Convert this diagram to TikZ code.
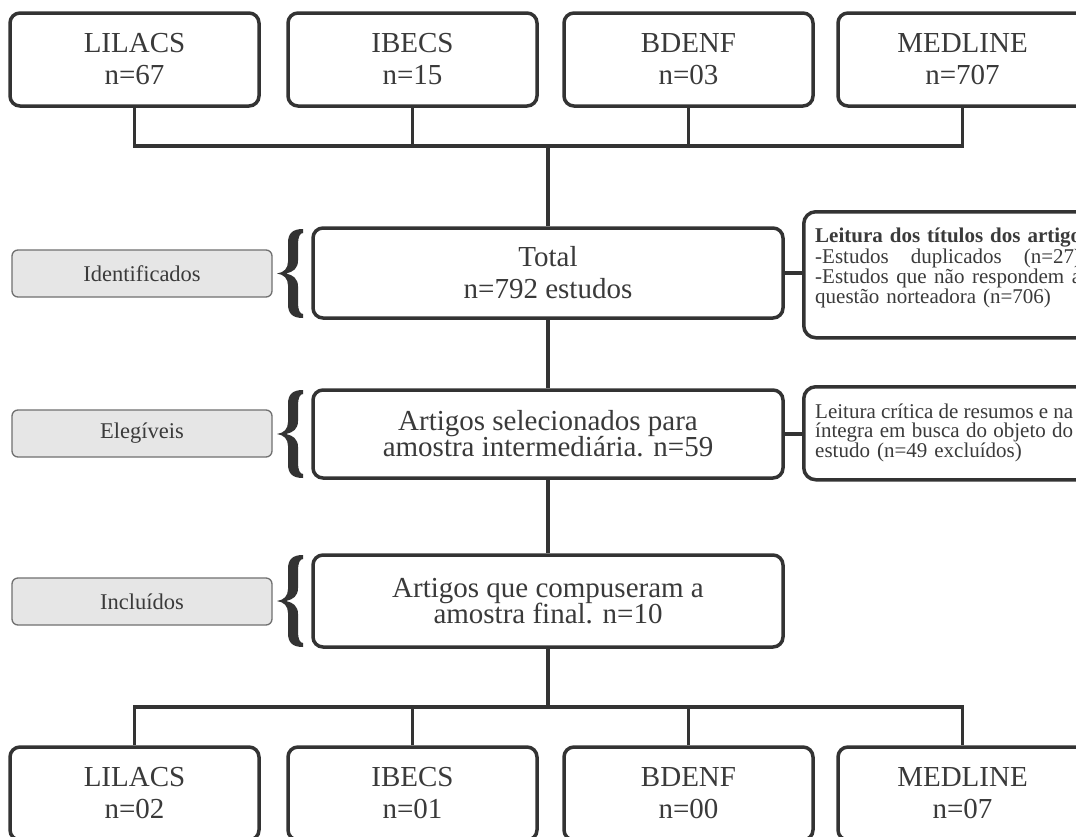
\documentclass[tikz,border=0pt]{standalone}
\usepackage{fontspec}
\setmainfont{Liberation Serif}
\definecolor{boxc}{HTML}{333333}
\definecolor{txtc}{HTML}{3A3A3A}
\definecolor{grayfill}{HTML}{E6E6E6}
\definecolor{grayline}{HTML}{707070}
\newcommand\bracedraw[3]{%
 \fill[boxc] (303,#1) .. controls (293,#1) and (288,#1+4) .. (288,#1+14) -- (288,#2-12) .. controls (288,#2-5) and (284,#2-1) .. (277,#2) .. controls (284,#2+1) and (288,#2+5) .. (288,#2+12) -- (288,#3-14) .. controls (288,#3-4) and (293,#3) .. (303,#3) -- (303,#3-4) .. controls (300,#3-4) and (298,#3-8) .. (298,#3-15) -- (298,#2+13) .. controls (298,#2+5) and (293,#2+1.5) .. (286,#2) .. controls (293,#2-1.5) and (298,#2-5) .. (298,#2-13) -- (298,#1+15) .. controls (298,#1+8) and (300,#1+4) .. (303,#1+4) -- cycle;}
\newcommand\spreadline[2]{\leavevmode\hbox to #1{#2}}
\begin{document}
\begin{tikzpicture}[x=1pt,y=-1pt,
  conn/.style={draw=boxc, line width=3.5pt, line join=miter},
  dbbox/.style={draw=boxc, line width=3.5pt, rounded corners=10pt, fill=white,
    minimum width=249pt, minimum height=93pt, align=center, inner sep=0pt,
    text=txtc, font={\fontsize{29}{32}\selectfont}},
  mainbox/.style={draw=boxc, line width=3.5pt, rounded corners=10pt, fill=white,
    minimum width=470pt, align=center, inner sep=0pt, text=txtc,
    font={\fontsize{29}{32}\selectfont}},
  sidebox/.style={draw=boxc, line width=3.5pt, rounded corners=12pt, fill=white,
    minimum width=300pt, anchor=north west, inner sep=0pt},
  sidetext/.style={anchor=north west, inner sep=0pt, align=left, text=txtc,
    font={\fontsize{21}{19}\selectfont}},
  lblbox/.style={draw=grayline, fill=grayfill, line width=1.3pt, rounded corners=6pt,
    minimum width=260pt, minimum height=47pt, inner sep=0pt, text=txtc,
    font={\fontsize{22.5}{26}\selectfont}}]
\useasboundingbox (0,0) rectangle (1076,836);
\fill[white] (0,0) rectangle (1076,836);
\clip (0,0) rectangle (1076,836);

% top database boxes
\node[dbbox] (t1) at (134.5,59.5) {LILACS\\n=67};
\node[dbbox] (t2) at (412.5,59.5) {IBECS\\n=15};
\node[dbbox] (t3) at (688.5,59.5) {BDENF\\n=03};
\node[dbbox] (t4) at (962.5,59.5) {MEDLINE\\n=707};

% main flow boxes
\node[mainbox, minimum height=90pt] (tot) at (548,273) {Total\\n=792 estudos};
\node[mainbox, minimum height=88pt] (art) at (548,434) {Artigos selecionados para\\[-6pt]amostra intermediária. n=59};
\node[mainbox, minimum height=92pt] (inc) at (548,601) {Artigos que compuseram a\\[-6pt]amostra final. n=10};

% side boxes
\node[sidebox, minimum height=126pt] (r1) at (802,210) {};
\node[sidetext, text width=266pt] (r1t) at (815,228) {\mbox{\textbf{Leitura dos títulos dos artigos}}\\
\spreadline{266pt}{-Estudos\hfill duplicados\hfill (n=27)}\\
\spreadline{266pt}{-Estudos\hfill que\hfill não\hfill respondem\hfill a}\\
questão norteadora (n=706)};
\node[sidebox, minimum height=93pt] (r2) at (802,385) {};
\node[sidetext, text width=258pt] (r2t) at (815,404) {\spreadline{258pt}{Leitura\hfill crítica\hfill de\hfill resumos\hfill e\hfill na}\\
\spreadline{258pt}{íntegra\hfill em\hfill busca\hfill do\hfill objeto\hfill do}\\
estudo (n=49 excluídos)};

% gray stage labels
\node[lblbox] (g1) at (142,273.5) {Identificados};
\node[lblbox] (g2) at (142,433.5) {Elegíveis};
\node[lblbox] (g3) at (142,601.5) {Incluídos};

% braces
\bracedraw{229}{273.5}{318}
\bracedraw{390}{434}{478}
\bracedraw{555}{601}{647}

% bottom database boxes
\node[dbbox] (b1) at (134.5,793.5) {LILACS\\n=02};
\node[dbbox] (b2) at (412.5,793.5) {IBECS\\n=01};
\node[dbbox] (b3) at (688.5,793.5) {BDENF\\n=00};
\node[dbbox] (b4) at (962.5,793.5) {MEDLINE\\n=07};

% junctions
\coordinate (jt) at (548,146);
\coordinate (jb) at (548,707);

% connectors top
\draw[conn] (t1.south) -- (t1.south |- jt) -- (t4.south |- jt) -- (t4.south);
\draw[conn] (t2.south) -- (t2.south |- jt);
\draw[conn] (t3.south) -- (t3.south |- jt);
\draw[conn] (jt) -- (tot.north);

% main flow
\draw[conn] (tot.south) -- (art.north);
\draw[conn] (art.south) -- (inc.north);
\draw[conn] (tot.east) -- (tot.east -| r1.west);
\draw[conn] (art.east) -- (art.east -| r2.west);

% connectors bottom
\draw[conn] (inc.south) -- (jb);
\draw[conn] (b1.north) -- (b1.north |- jb) -- (b4.north |- jb) -- (b4.north);
\draw[conn] (b2.north) -- (b2.north |- jb);
\draw[conn] (b3.north) -- (b3.north |- jb);
\end{tikzpicture}
\end{document}
